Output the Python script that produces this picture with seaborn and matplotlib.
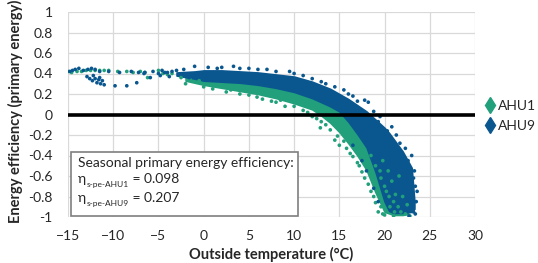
import matplotlib
matplotlib.use("Agg")
import matplotlib.pyplot as plt
import pandas as pd
import seaborn as sns
from matplotlib.lines import Line2D
from matplotlib.patches import Rectangle

# series colours / names
units = ["AHU1", "AHU9"]
colors = {"AHU1": "#21a07b", "AHU9": "#0a5790"}

# dense core of each point cloud, read as lower / upper edges vs temperature
band_temp_ahu1 = [-2, 0, 2, 4, 6, 8, 10, 12, 13, 14, 15, 16, 17, 18, 19, 20, 21, 22, 22.6]
band_hi_ahu1 = [0.36, 0.36, 0.35, 0.34, 0.32, 0.30, 0.27, 0.20, 0.15, 0.09, 0.03, -0.05, -0.14, -0.25, -0.38, -0.52, -0.66, -0.82, -0.95]
band_lo_ahu1 = [0.33, 0.29, 0.26, 0.23, 0.20, 0.16, 0.11, 0.05, -0.01, -0.08, -0.17, -0.28, -0.40, -0.54, -0.76, -0.95, -0.98, -0.98, -0.97]

band_temp_ahu9 = [-3, -1, 0, 2, 4, 6, 8, 10, 12, 14, 15, 16, 17, 18, 19, 20, 20.5, 21, 22, 23, 23.3]
band_hi_ahu9 = [0.41, 0.42, 0.43, 0.43, 0.42, 0.41, 0.39, 0.37, 0.32, 0.25, 0.20, 0.15, 0.09, 0.03, -0.05, -0.13, -0.18, -0.24, -0.36, -0.52, -0.85]
band_lo_ahu9 = [0.38, 0.35, 0.33, 0.32, 0.31, 0.29, 0.26, 0.22, 0.16, 0.08, 0.03, -0.07, -0.19, -0.32, -0.56, -0.85, -0.94, -0.96, -0.96, -0.95, -0.92]

# individual scattered points
temp_ahu1 = [-15, -14.6, -14.0, -13.5, -13.0, -12.5, -12.0, -11.5, -11.0, -10.5, -9.5, -8.5, -7.8, -7.0,
             -6.5, -6.2, -5.0, -4.5, -4.0, -3.5, 1.0, 4.0, 5.9, 7.5, 9.0, 11.0, 12.0, 12.9, 13.5, 14.5,
             15.0, 15.5, 16.2, 17.2, 17.8, 18.5, 19.0, 19.3, 20.0, 21.0, 22.8, 19.5, 20.0, 20.5, 21.0,
             21.5, 20.8, 19.8, 21.8, 22.3,
             -2.0, 0.0, 2.5, 3.0, 5.0, 6.5, 8.0, 8.5, 10.0, 11.5, 12.5, 13.0, 14.0, 14.8, 15.8, 16.5,
             17.0, 17.5, 18.2, 18.8, 19.6, 19.8,
             18.5, 19.0, 19.6, 20.2, 20.6, 21.2, 21.6, 22.0, 22.5, 20.4, 21.1, -2.5, -1.5, -0.5]
eff_ahu1 = [0.42, 0.41, 0.42, 0.42, 0.43, 0.43, 0.43, 0.43, 0.43, 0.43, 0.42, 0.42, 0.41, 0.42,
            0.41, 0.36, 0.43, 0.40, 0.39, 0.40, 0.25, 0.20, 0.17, 0.13, 0.08, 0.04, -0.02, -0.13, -0.10, -0.25,
            -0.30, -0.26, -0.38, -0.50, -0.62, -0.75, -0.86, -0.95, -0.98, -0.99, -0.99, -0.55, -0.70, -0.80, -0.85,
            -0.90, -0.65, -0.45, -0.95, -0.97,
            0.30, 0.27, 0.22, 0.24, 0.19, 0.15, 0.12, 0.14, 0.08, 0.02, -0.04, -0.07, -0.15, -0.21, -0.33, -0.41,
            -0.47, -0.56, -0.68, -0.80, -0.90, -0.97,
            -0.40, -0.50, -0.62, -0.75, -0.90, -0.78, -0.60, -0.80, -0.88, -0.55, -0.95, 0.36, 0.34, 0.33]

temp_ahu9 = [-14.8, -14.5, -14.2, -13.8, -13.3, -12.8, -12.4, -12.0, -11.5, -10.5, -9.3, -8.0, -7.2,
             -6.5, -5.6, -5.0, -4.6, -4.0, -3.5, -3.0, -12.9, -12.6, -12.3, -12.0, -11.8, -11.6, -11.4,
             -11.2, -11.0, -11.5, -12.2, -9.8, -8.5, -7.4, -6.6, -5.9, -1.0, 2.0, 3.3, 5.0, 7.0, 9.5,
             11.0, 13.0, 15.5, 16.5, 17.8, 18.2, 19.5, 20.8, 21.3, 22.3, 23.0, 23.3, 23.4, 23.5, 23.2,
             0.5, 1.5, 4.0, 6.0, 8.0, 10.0, 12.0, 13.5, 14.5, 16.0, 17.0, 18.8, 19.3, 20.3, 21.7, 22.6,
             23.2, 23.6, 22.7, 23.4, 16.5, 17.5, 18.0, 18.8, 19.3, -4.8, -4.3, -3.8, -2.2, -1.6]
eff_ahu9 = [0.42, 0.43, 0.44, 0.45, 0.43, 0.44, 0.45, 0.44, 0.42, 0.42, 0.41, 0.42, 0.41,
            0.41, 0.42, 0.40, 0.43, 0.41, 0.42, 0.43, 0.37, 0.35, 0.33, 0.35, 0.31, 0.34, 0.30,
            0.33, 0.29, 0.36, 0.38, 0.28, 0.28, 0.31, 0.40, 0.36, 0.47, 0.46, 0.47, 0.45, 0.44, 0.42,
            0.38, 0.32, 0.24, 0.18, 0.14, 0.12, -0.02, -0.12, -0.20, -0.33, -0.40, -0.55, -0.70, -0.85, -0.95,
            0.46, 0.45, 0.45, 0.44, 0.42, 0.40, 0.35, 0.30, 0.27, 0.20, 0.13, 0.03, -0.07, -0.16, -0.28, -0.45,
            -0.62, -0.75, -0.99, -0.97, -0.30, -0.45, -0.55, -0.72, -0.85, 0.38, 0.41, 0.37, 0.44, 0.36]

xticks = [-15, -10, -5, 0, 5, 10, 15, 20, 25, 30]
yticks = [-1, -0.8, -0.6, -0.4, -0.2, 0, 0.2, 0.4, 0.6, 0.8, 1]
ytick_labels = ["-1", "-0.8", "-0.6", "-0.4", "-0.2", "0", "0.2", "0.4", "0.6", "0.8", "1"]

box_title = "Seasonal primary energy efficiency:"
eta_subs = ["s-pe-AHU1", "s-pe-AHU9"]
eta_vals = ["0.098", "0.207"]

df = pd.concat([
    pd.DataFrame({"temp": temp_ahu1, "eff": eff_ahu1, "unit": "AHU1"}),
    pd.DataFrame({"temp": temp_ahu9, "eff": eff_ahu9, "unit": "AHU9"}),
])

sns.set_style("white")
plt.rcParams["font.family"] = ["Lato", "DejaVu Sans"]

fig = plt.figure(figsize=(5.38, 2.63), dpi=100)
ax = fig.add_axes([68 / 538, 1 - 217 / 263, 407 / 538, 205 / 263])

# dense clouds
ax.fill_between(band_temp_ahu1, band_lo_ahu1, band_hi_ahu1, color=colors["AHU1"], lw=1.2,
                edgecolor=colors["AHU1"], zorder=2)
ax.fill_between(band_temp_ahu9, band_lo_ahu9, band_hi_ahu9, color=colors["AHU9"], lw=1.2,
                edgecolor=colors["AHU9"], zorder=3)

sns.scatterplot(data=df, x="temp", y="eff", hue="unit", palette=colors, s=7, linewidth=0,
                legend=False, ax=ax, zorder=4)

ax.axhline(0, color="black", lw=2.6, zorder=5)

ax.set_xlim(-15, 30)
ax.set_ylim(-1, 1)
ax.set_xticks(xticks)
ax.set_yticks(yticks)
ax.set_yticklabels(ytick_labels)
ax.grid(True, color="#d9d9d9", lw=0.9)
ax.set_axisbelow(True)
for s in ax.spines.values():
    s.set_visible(False)
ax.tick_params(length=0, labelsize=10, colors="#262626")
ax.tick_params(axis="y", pad=11)
ax.tick_params(axis="x", pad=9)
ax.set_xlabel("")
ax.set_ylabel("")

fig.text(271 / 538, 1 - 254 / 263, "Outside temperature (°C)", ha="center", va="center",
         fontsize=10.5, fontweight="bold", color="#262626")
fig.text(15 / 538, 1 - 111 / 263, "Energy efficiency (primary energy)", ha="center", va="center",
         rotation=90, fontsize=10.5, fontweight="bold", color="#262626")

# annotation box
ax.add_patch(Rectangle((0.0074, 0.005), 0.558, 0.312, transform=ax.transAxes, facecolor="white",
                       edgecolor="#7f7f7f", lw=1.2, zorder=6))
ax.text(0.025, 0.262, box_title, transform=ax.transAxes, fontsize=10, va="center", zorder=7,
        color="#262626")
for i, (sub, val) in enumerate(zip(eta_subs, eta_vals)):
    y = 0.166 - i * 0.094
    t_eta = ax.text(0.025, y, "η", transform=ax.transAxes, fontsize=10, va="baseline", zorder=7,
                    color="#262626")
    t_sub = ax.annotate(sub, xy=(1.0, 0.0), xycoords=t_eta, xytext=(0.5, -1.5),
                        textcoords="offset points", fontsize=6, va="baseline", zorder=7,
                        color="#262626")
    ax.annotate(" = " + val, xy=(1.0, 0.0), xycoords=(t_sub, t_eta), xytext=(0, 0),
                textcoords="offset points", fontsize=10, va="bottom", zorder=7, color="#262626")

handles = [Line2D([], [], marker="d", ls="", markersize=8, color=colors[u]) for u in units]
fig.legend(handles, units, loc="center left", bbox_to_anchor=(484 / 538, 1 - 116 / 263),
           frameon=False, handletextpad=0.2, labelspacing=0.55, fontsize=10, handlelength=0.8,
           borderpad=0, borderaxespad=0)

fig.savefig("out.png", dpi=100)
